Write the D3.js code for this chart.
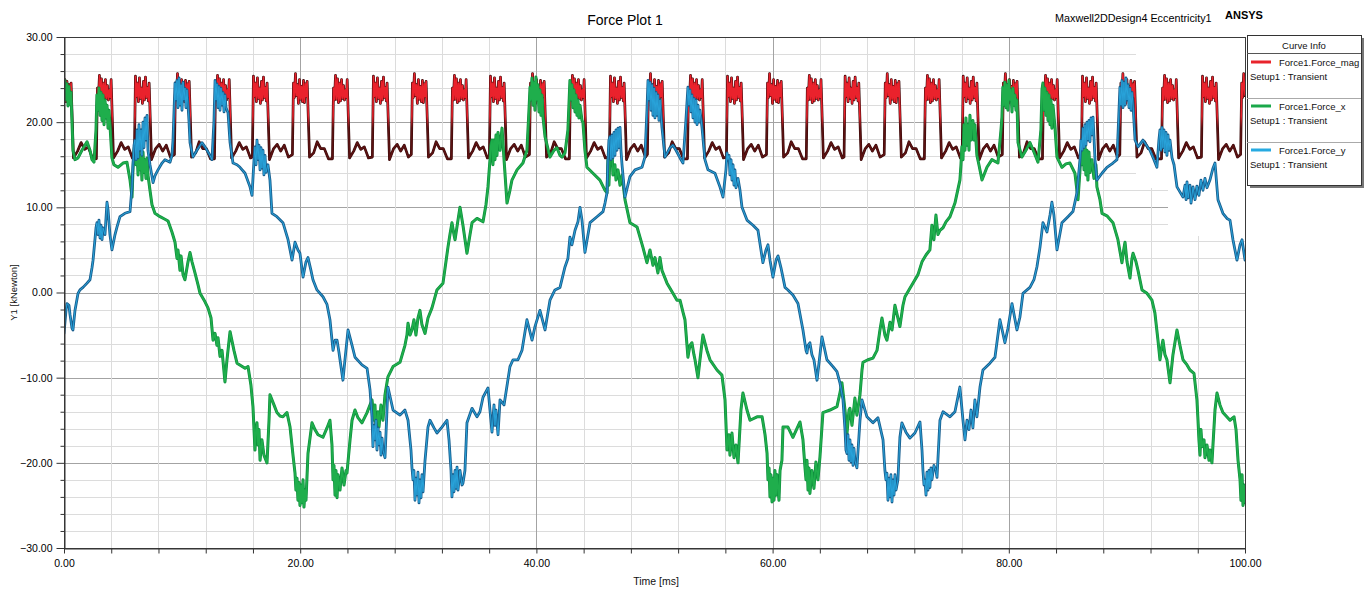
<!DOCTYPE html>
<html>
<head>
<meta charset="utf-8">
<script src="https://cdn.jsdelivr.net/npm/d3@7"></script>
<style>
  body { margin: 0; background: #fff; }
  svg { display: block; font-family: "Liberation Sans", Arial, sans-serif; }
</style>
</head>
<body>
<svg id="chart" width="1370" height="590"></svg>
<script>
// ---- axis ranges and tick values ----
const timeRange = [0, 100];          // ms
const forceRange = [-30, 30];        // kNewton
const yMajorTicks = [-30, -20, -10, 0, 10, 20, 30];
const yGridStep = 2;
const xGridStep = 4;
const xMajorTicks = [0, 20, 40, 60, 80, 100];

const plotTitle = "Force Plot 1";
const designLabel = "Maxwell2DDesign4 Eccentricity1";
const brandLabel = "ANSYS";
const xAxisTitle = "Time [ms]";
const yAxisTitle = "Y1 [kNewton]";
const legendTitle = "Curve Info";
const seriesNames = ["Force1.Force_mag", "Force1.Force_x", "Force1.Force_y"];
const setupLabel = "Setup1 : Transient";

// ---- Force1.Force_mag  [time ms, force kN] ----
const forceMag = [
[0,23.6],[0.08,25.0],[0.17,22.4],[0.25,24.8],[0.34,22.6],[0.42,24.4],[0.51,22.9],[0.60,24.6],[0.80,15.8],[1.15,16.6],[1.45,17.6],[1.75,16.8],[2.05,17.1],[2.40,15.8],
[2.74,15.7],[2.83,24.0],[2.91,22.6],[3.00,25.5],[3.08,22.7],[3.17,25.1],[3.25,22.3],[3.34,24.6],[3.42,22.5],[3.51,25.0],[3.59,22.8],[3.68,24.3],[3.76,22.6],[3.85,23.8],[3.92,22.9],[3.99,25.0],[4.19,15.8],[4.54,16.6],[4.84,17.6],[5.14,16.8],[5.44,17.1],[5.79,15.8],
[5.96,15.9],[6.05,25.4],[6.13,23.0],[6.22,24.6],[6.30,22.4],[6.39,25.2],[6.47,22.8],[6.56,24.0],[6.64,22.2],[6.73,24.8],[6.81,22.6],[6.90,25.3],[6.98,22.9],[7.07,24.1],[7.14,22.5],[7.21,24.6],[7.41,15.6],[7.76,16.9],[8.06,17.4],[8.36,16.6],[8.66,17.3],[9.01,15.9],
[9.35,16.2],[9.44,24.6],[9.52,22.9],[9.61,25.7],[9.69,23.1],[9.78,24.4],[9.86,22.2],[9.95,25.0],[10.03,22.7],[10.12,24.2],[10.20,22.4],[10.29,24.9],[10.37,22.3],[10.46,24.5],[10.53,23.0],[10.60,24.8],[10.80,15.9],[11.15,16.4],[11.45,17.7],[11.75,16.9],[12.05,16.9],[12.40,15.7],
[12.74,15.7],[12.83,24.0],[12.91,22.6],[13.00,25.5],[13.08,22.7],[13.17,25.1],[13.25,22.3],[13.34,24.6],[13.42,22.5],[13.51,25.0],[13.59,22.8],[13.68,24.3],[13.76,22.6],[13.85,23.8],[13.92,22.9],[13.99,25.0],[14.19,15.8],[14.54,16.6],[14.84,17.6],[15.14,16.8],[15.44,17.1],[15.79,15.8],
[15.95,15.9],[16.04,25.4],[16.12,23.0],[16.21,24.6],[16.29,22.4],[16.38,25.2],[16.46,22.8],[16.55,24.0],[16.63,22.2],[16.72,24.8],[16.80,22.6],[16.89,25.3],[16.97,22.9],[17.06,24.1],[17.13,22.5],[17.20,24.6],[17.40,15.6],[17.75,16.9],[18.05,17.4],[18.35,16.6],[18.65,17.3],[19.00,15.9],
[19.34,16.2],[19.43,24.6],[19.51,22.9],[19.60,25.7],[19.68,23.1],[19.77,24.4],[19.85,22.2],[19.94,25.0],[20.02,22.7],[20.11,24.2],[20.19,22.4],[20.28,24.9],[20.36,22.3],[20.45,24.5],[20.52,23.0],[20.59,24.8],[20.79,15.9],[21.14,16.4],[21.44,17.7],[21.74,16.9],[22.04,16.9],[22.39,15.7],
[22.73,15.7],[22.82,24.0],[22.90,22.6],[22.99,25.5],[23.07,22.7],[23.16,25.1],[23.24,22.3],[23.33,24.6],[23.41,22.5],[23.50,25.0],[23.58,22.8],[23.67,24.3],[23.75,22.6],[23.84,23.8],[23.91,22.9],[23.98,25.0],[24.18,15.8],[24.53,16.6],[24.83,17.6],[25.13,16.8],[25.43,17.1],[25.78,15.8],
[26.11,15.9],[26.20,25.4],[26.28,23.0],[26.37,24.6],[26.45,22.4],[26.54,25.2],[26.62,22.8],[26.71,24.0],[26.79,22.2],[26.88,24.8],[26.96,22.6],[27.05,25.3],[27.13,22.9],[27.22,24.1],[27.29,22.5],[27.36,24.6],[27.56,15.6],[27.91,16.9],[28.21,17.4],[28.51,16.6],[28.81,17.3],[29.16,15.9],
[29.41,16.2],[29.50,24.6],[29.58,22.9],[29.67,25.7],[29.75,23.1],[29.84,24.4],[29.92,22.2],[30.01,25.0],[30.09,22.7],[30.18,24.2],[30.26,22.4],[30.35,24.9],[30.43,22.3],[30.52,24.5],[30.59,23.0],[30.66,24.8],[30.86,15.9],[31.21,16.4],[31.51,17.7],[31.81,16.9],[32.11,16.9],[32.46,15.7],
[32.80,15.7],[32.89,24.0],[32.97,22.6],[33.06,25.5],[33.14,22.7],[33.23,25.1],[33.31,22.3],[33.40,24.6],[33.48,22.5],[33.57,25.0],[33.65,22.8],[33.74,24.3],[33.82,22.6],[33.91,23.8],[33.98,22.9],[34.05,25.0],[34.25,15.8],[34.60,16.6],[34.90,17.6],[35.20,16.8],[35.50,17.1],[35.85,15.8],
[36.02,15.9],[36.11,25.4],[36.19,23.0],[36.28,24.6],[36.36,22.4],[36.45,25.2],[36.53,22.8],[36.62,24.0],[36.70,22.2],[36.79,24.8],[36.87,22.6],[36.96,25.3],[37.04,22.9],[37.13,24.1],[37.20,22.5],[37.27,24.6],[37.47,15.6],[37.82,16.9],[38.12,17.4],[38.42,16.6],[38.72,17.3],[39.07,15.9],
[39.41,16.2],[39.50,24.6],[39.58,22.9],[39.67,25.7],[39.75,23.1],[39.84,24.4],[39.92,22.2],[40.01,25.0],[40.09,22.7],[40.18,24.2],[40.26,22.4],[40.35,24.9],[40.43,22.3],[40.52,24.5],[40.59,23.0],[40.66,24.8],[40.86,15.9],[41.21,16.4],[41.51,17.7],[41.81,16.9],[42.11,16.9],[42.46,15.7],
[42.79,15.7],[42.88,24.0],[42.96,22.6],[43.05,25.5],[43.13,22.7],[43.22,25.1],[43.30,22.3],[43.39,24.6],[43.47,22.5],[43.56,25.0],[43.64,22.8],[43.73,24.3],[43.81,22.6],[43.90,23.8],[43.97,22.9],[44.04,25.0],[44.24,15.8],[44.59,16.6],[44.89,17.6],[45.19,16.8],[45.49,17.1],[45.84,15.8],
[46.18,15.9],[46.27,25.4],[46.35,23.0],[46.44,24.6],[46.52,22.4],[46.61,25.2],[46.69,22.8],[46.78,24.0],[46.86,22.2],[46.95,24.8],[47.03,22.6],[47.12,25.3],[47.20,22.9],[47.29,24.1],[47.36,22.5],[47.43,24.6],[47.63,15.6],[47.98,16.9],[48.28,17.4],[48.58,16.6],[48.88,17.3],[49.23,15.9],
[49.40,16.2],[49.49,24.6],[49.57,22.9],[49.66,25.7],[49.74,23.1],[49.83,24.4],[49.91,22.2],[50.00,25.0],[50.08,22.7],[50.17,24.2],[50.25,22.4],[50.34,24.9],[50.42,22.3],[50.51,24.5],[50.58,23.0],[50.65,24.8],[50.85,15.9],[51.20,16.4],[51.50,17.7],[51.80,16.9],[52.10,16.9],[52.45,15.7],
[52.79,15.7],[52.88,24.0],[52.96,22.6],[53.05,25.5],[53.13,22.7],[53.22,25.1],[53.30,22.3],[53.39,24.6],[53.47,22.5],[53.56,25.0],[53.64,22.8],[53.73,24.3],[53.81,22.6],[53.90,23.8],[53.97,22.9],[54.04,25.0],[54.24,15.8],[54.59,16.6],[54.89,17.6],[55.19,16.8],[55.49,17.1],[55.84,15.8],
[56.09,15.9],[56.18,25.4],[56.26,23.0],[56.35,24.6],[56.43,22.4],[56.52,25.2],[56.60,22.8],[56.69,24.0],[56.77,22.2],[56.86,24.8],[56.94,22.6],[57.03,25.3],[57.11,22.9],[57.20,24.1],[57.27,22.5],[57.34,24.6],[57.54,15.6],[57.89,16.9],[58.19,17.4],[58.49,16.6],[58.79,17.3],[59.14,15.9],
[59.48,16.2],[59.57,24.6],[59.65,22.9],[59.74,25.7],[59.82,23.1],[59.91,24.4],[59.99,22.2],[60.08,25.0],[60.16,22.7],[60.25,24.2],[60.33,22.4],[60.42,24.9],[60.50,22.3],[60.59,24.5],[60.66,23.0],[60.73,24.8],[60.93,15.9],[61.28,16.4],[61.58,17.7],[61.88,16.9],[62.18,16.9],[62.53,15.7],
[62.85,15.7],[62.94,24.0],[63.02,22.6],[63.11,25.5],[63.19,22.7],[63.28,25.1],[63.36,22.3],[63.45,24.6],[63.53,22.5],[63.62,25.0],[63.70,22.8],[63.79,24.3],[63.87,22.6],[63.96,23.8],[64.03,22.9],[64.10,25.0],[64.30,15.8],[64.65,16.6],[64.95,17.6],[65.25,16.8],[65.55,17.1],[65.90,15.8],
[66.05,15.9],[66.14,25.4],[66.22,23.0],[66.31,24.6],[66.39,22.4],[66.48,25.2],[66.56,22.8],[66.65,24.0],[66.73,22.2],[66.82,24.8],[66.90,22.6],[66.99,25.3],[67.07,22.9],[67.16,24.1],[67.23,22.5],[67.30,24.6],[67.50,15.6],[67.85,16.9],[68.15,17.4],[68.45,16.6],[68.75,17.3],[69.10,15.9],
[69.45,16.2],[69.54,24.6],[69.62,22.9],[69.71,25.7],[69.79,23.1],[69.88,24.4],[69.96,22.2],[70.05,25.0],[70.13,22.7],[70.22,24.2],[70.30,22.4],[70.39,24.9],[70.47,22.3],[70.56,24.5],[70.63,23.0],[70.70,24.8],[70.90,15.9],[71.25,16.4],[71.55,17.7],[71.85,16.9],[72.15,16.9],[72.50,15.7],
[72.85,15.7],[72.94,24.0],[73.02,22.6],[73.11,25.5],[73.19,22.7],[73.28,25.1],[73.36,22.3],[73.45,24.6],[73.53,22.5],[73.62,25.0],[73.70,22.8],[73.79,24.3],[73.87,22.6],[73.96,23.8],[74.03,22.9],[74.10,25.0],[74.30,15.8],[74.65,16.6],[74.95,17.6],[75.25,16.8],[75.55,17.1],[75.90,15.8],
[76.05,15.9],[76.14,25.4],[76.22,23.0],[76.31,24.6],[76.39,22.4],[76.48,25.2],[76.56,22.8],[76.65,24.0],[76.73,22.2],[76.82,24.8],[76.90,22.6],[76.99,25.3],[77.07,22.9],[77.16,24.1],[77.23,22.5],[77.30,24.6],[77.50,15.6],[77.85,16.9],[78.15,17.4],[78.45,16.6],[78.75,17.3],[79.10,15.9],
[79.45,16.2],[79.54,24.6],[79.62,22.9],[79.71,25.7],[79.79,23.1],[79.88,24.4],[79.96,22.2],[80.05,25.0],[80.13,22.7],[80.22,24.2],[80.30,22.4],[80.39,24.9],[80.47,22.3],[80.56,24.5],[80.63,23.0],[80.70,24.8],[80.90,15.9],[81.25,16.4],[81.55,17.7],[81.85,16.9],[82.15,16.9],[82.50,15.7],
[82.85,15.7],[82.94,24.0],[83.02,22.6],[83.11,25.5],[83.19,22.7],[83.28,25.1],[83.36,22.3],[83.45,24.6],[83.53,22.5],[83.62,25.0],[83.70,22.8],[83.79,24.3],[83.87,22.6],[83.96,23.8],[84.03,22.9],[84.10,25.0],[84.30,15.8],[84.65,16.6],[84.95,17.6],[85.25,16.8],[85.55,17.1],[85.90,15.8],
[86.15,15.9],[86.24,25.4],[86.32,23.0],[86.41,24.6],[86.49,22.4],[86.58,25.2],[86.66,22.8],[86.75,24.0],[86.83,22.2],[86.92,24.8],[87.00,22.6],[87.09,25.3],[87.17,22.9],[87.26,24.1],[87.33,22.5],[87.40,24.6],[87.60,15.6],[87.95,16.9],[88.25,17.4],[88.55,16.6],[88.85,17.3],[89.20,15.9],
[89.40,16.2],[89.49,24.6],[89.57,22.9],[89.66,25.7],[89.74,23.1],[89.83,24.4],[89.91,22.2],[90.00,25.0],[90.08,22.7],[90.17,24.2],[90.25,22.4],[90.34,24.9],[90.42,22.3],[90.51,24.5],[90.58,23.0],[90.65,24.8],[90.85,15.9],[91.20,16.4],[91.50,17.7],[91.80,16.9],[92.10,16.9],[92.45,15.7],
[92.93,15.7],[93.02,24.0],[93.10,22.6],[93.19,25.5],[93.27,22.7],[93.36,25.1],[93.44,22.3],[93.53,24.6],[93.61,22.5],[93.70,25.0],[93.78,22.8],[93.87,24.3],[93.95,22.6],[94.04,23.8],[94.11,22.9],[94.18,25.0],[94.38,15.8],[94.73,16.6],[95.03,17.6],[95.33,16.8],[95.63,17.1],[95.98,15.8],
[96.31,15.9],[96.40,25.4],[96.48,23.0],[96.57,24.6],[96.65,22.4],[96.74,25.2],[96.82,22.8],[96.91,24.0],[96.99,22.2],[97.08,24.8],[97.16,22.6],[97.25,25.3],[97.33,22.9],[97.42,24.1],[97.49,22.5],[97.56,24.6],[97.76,15.6],[98.11,16.9],[98.41,17.4],[98.71,16.6],[99.01,17.3],[99.36,15.9],
[99.63,16.2],[99.72,24.6],[99.80,22.9],[99.89,25.7],[100,23.1]
];

// ---- Force1.Force_x  [time ms, force kN] ----
const forceX = [
[0,24.0],[0.08,24.9],[0.17,22.6],[0.25,24.5],[0.34,21.9],[0.42,24.2],[0.51,22.1],[0.59,23.5],[0.76,16.7],[0.93,15.6],[1.19,15.8],[1.52,16.7],[1.95,17.7],[2.20,16.7],[2.37,15.6],[2.54,15.3],[2.71,19.1],[2.79,23.2],[2.88,21.4],[2.96,24.0],[3.05,20.8],[3.13,23.5],[3.22,20.2],[3.30,23.2],[3.39,19.7],[3.47,22.6],[3.56,20.5],[3.64,22.0],[3.73,19.3],[3.81,21.4],[3.89,19.7],[4.06,15.8],[4.23,15.0],[4.57,14.7],[5.00,15.2],[5.33,15.3],[5.59,13.2],[5.76,11.2],[5.84,14.4],[5.93,16.7],[6.01,17.6],[6.10,15.0],[6.18,16.7],[6.27,13.8],[6.35,17.0],[6.43,14.4],[6.52,16.1],[6.60,13.2],[6.69,16.5],[6.77,14.1],[6.86,15.6],[6.94,13.4],[7.03,15.8],[7.11,13.8],[7.28,12.0],[7.45,10.3],[7.70,9.3],[8.13,8.9],[8.55,8.6],[8.81,8.4],[9.14,7.1],[9.40,5.9],[9.57,4.0],[9.65,5.0],[9.82,2.6],[9.91,4.3],[10.08,2.1],[10.24,1.5],[10.50,3.6],[10.67,4.7],[10.84,3.6],[11.09,2.3],[11.35,0.9],[11.52,-0.1],[11.94,-1.1],[12.19,-1.8],[12.45,-3.0],[12.62,-5.6],[12.79,-4.8],[12.95,-6.2],[13.04,-5.3],[13.21,-7.5],[13.38,-6.8],[13.63,-10.5],[13.80,-7.9],[14.06,-4.6],[14.39,-6.8],[14.65,-8.3],[14.99,-8.6],[15.33,-8.9],[15.58,-8.7],[15.83,-10.9],[16.00,-13.4],[16.17,-18.5],[16.26,-16.1],[16.34,-15.3],[16.43,-17.9],[16.51,-16.1],[16.60,-19.7],[16.76,-17.3],[16.93,-19.1],[17.19,-20.0],[17.36,-15.0],[17.44,-12.0],[17.78,-13.2],[18.03,-14.1],[18.29,-14.5],[18.54,-14.6],[18.88,-14.1],[19.14,-15.8],[19.39,-19.1],[19.56,-21.2],[19.64,-23.2],[19.73,-21.8],[19.81,-24.4],[19.90,-22.3],[19.98,-25.0],[20.07,-22.6],[20.15,-24.7],[20.24,-22.0],[20.32,-25.2],[20.41,-23.2],[20.49,-24.4],[20.66,-18.9],[20.83,-17.1],[21.00,-15.3],[21.25,-16.1],[21.51,-16.7],[21.93,-17.0],[22.27,-15.9],[22.52,-15.0],[22.69,-17.9],[22.78,-22.0],[22.86,-20.3],[22.95,-23.8],[23.03,-20.9],[23.12,-24.1],[23.20,-21.4],[23.37,-23.2],[23.54,-20.6],[23.71,-22.6],[23.88,-20.9],[23.96,-21.2],[24.22,-17.3],[24.39,-15.0],[24.64,-13.8],[24.89,-14.7],[25.23,-15.3],[25.66,-14.1],[26.08,-12.6],[26.25,-15.0],[26.33,-13.2],[26.42,-16.1],[26.59,-14.0],[26.67,-15.8],[26.84,-13.2],[27.01,-15.0],[27.18,-12.0],[27.43,-9.9],[27.86,-8.7],[28.45,-8.2],[28.87,-6.2],[29.04,-5.0],[29.13,-3.6],[29.30,-5.0],[29.46,-4.4],[29.63,-3.2],[29.80,-5.0],[29.97,-3.0],[30.14,-2.1],[30.31,-3.8],[30.57,-4.8],[30.82,-3.0],[31.16,-1.8],[31.58,0.3],[32.09,1.1],[32.51,5.3],[32.68,6.8],[32.85,8.2],[33.02,6.8],[33.11,6.2],[33.36,8.5],[33.53,10.0],[33.78,7.9],[34.12,4.6],[34.38,6.8],[34.55,8.2],[34.97,8.7],[35.48,8.3],[35.73,10.3],[35.90,12.4],[36.07,15.6],[36.15,17.3],[36.24,17.9],[36.32,15.0],[36.41,17.9],[36.49,15.6],[36.58,18.5],[36.66,16.1],[36.75,18.8],[36.92,16.7],[37.09,19.3],[37.26,15.6],[37.51,10.5],[37.76,12.0],[37.93,13.2],[38.36,14.4],[38.86,15.2],[39.20,16.7],[39.37,21.4],[39.46,24.1],[39.54,22.6],[39.63,25.2],[39.71,22.0],[39.80,24.7],[39.88,21.4],[39.96,25.3],[40.05,22.6],[40.13,24.4],[40.22,21.2],[40.30,23.8],[40.39,20.8],[40.47,23.2],[40.56,20.6],[40.73,18.3],[41.15,15.9],[41.49,16.7],[41.74,17.0],[42.00,16.1],[42.17,15.9],[42.42,16.4],[42.67,19.1],[42.84,24.9],[42.93,22.6],[43.01,24.4],[43.10,21.7],[43.18,23.8],[43.27,21.2],[43.35,23.2],[43.44,20.8],[43.52,22.6],[43.60,20.5],[43.69,22.0],[43.86,20.2],[43.94,20.0],[44.11,16.7],[44.28,14.7],[44.79,14.0],[45.38,13.2],[45.81,12.0],[45.98,11.7],[46.06,15.6],[46.14,12.6],[46.23,16.1],[46.40,16.7],[46.48,13.8],[46.65,15.0],[46.74,13.2],[46.91,14.4],[47.08,12.6],[47.25,13.8],[47.50,10.9],[47.92,8.2],[48.52,7.7],[49.02,5.3],[49.36,3.5],[49.62,5.0],[49.87,3.2],[50.04,4.1],[50.29,2.3],[50.46,4.1],[50.63,2.6],[51.06,1.1],[51.56,-0.1],[51.90,-0.9],[52.16,-0.9],[52.41,-2.3],[52.58,-3.2],[52.83,-7.6],[53.00,-6.2],[53.17,-5.9],[53.34,-7.3],[53.43,-7.9],[53.68,-10.0],[53.85,-7.9],[54.10,-5.0],[54.44,-6.8],[54.70,-7.9],[55.29,-9.1],[55.71,-9.7],[55.97,-12.6],[56.14,-18.5],[56.31,-16.7],[56.39,-19.1],[56.56,-16.5],[56.73,-19.4],[56.90,-17.9],[57.07,-20.0],[57.32,-13.8],[57.49,-11.8],[57.83,-13.8],[58.09,-15.0],[58.68,-14.6],[59.11,-14.6],[59.36,-16.7],[59.53,-18.9],[59.61,-22.0],[59.70,-20.6],[59.78,-24.0],[59.86,-21.4],[59.95,-24.6],[60.03,-21.8],[60.12,-24.4],[60.20,-20.9],[60.29,-23.8],[60.37,-21.4],[60.54,-24.4],[60.63,-20.9],[60.79,-19.7],[60.88,-15.8],[61.30,-15.8],[61.72,-17.0],[62.32,-15.2],[62.57,-17.3],[62.74,-20.5],[62.83,-22.0],[62.91,-19.7],[63.00,-23.2],[63.08,-20.6],[63.16,-23.6],[63.33,-20.9],[63.50,-23.0],[63.67,-19.9],[63.84,-22.0],[64.01,-19.3],[64.26,-14.1],[64.86,-13.8],[65.45,-13.4],[65.70,-11.8],[65.87,-10.6],[66.13,-13.8],[66.30,-16.5],[66.47,-13.8],[66.55,-13.6],[66.72,-15.6],[66.97,-12.4],[67.14,-14.4],[67.40,-12.0],[67.57,-9.1],[67.65,-8.2],[68.07,-7.9],[68.50,-7.7],[68.84,-6.8],[69.09,-4.4],[69.26,-3.0],[69.51,-5.0],[69.68,-5.6],[69.94,-3.5],[70.11,-4.4],[70.36,-1.5],[70.61,-3.0],[70.78,-4.0],[71.04,-1.5],[71.21,-0.5],[71.63,0.5],[71.88,1.1],[72.31,2.1],[72.65,3.6],[72.99,4.4],[73.32,5.0],[73.49,7.9],[73.66,6.2],[73.83,9.1],[74.00,6.8],[74.17,7.3],[74.43,7.6],[74.68,8.3],[75.02,8.9],[75.44,10.5],[75.86,13.2],[75.95,15.0],[76.03,17.1],[76.12,15.6],[76.20,19.7],[76.29,16.7],[76.37,20.5],[76.46,17.3],[76.54,19.7],[76.63,16.7],[76.71,20.8],[76.80,17.9],[76.88,20.0],[76.96,20.2],[77.05,17.9],[77.13,19.7],[77.30,16.1],[77.47,15.0],[77.73,13.2],[78.15,14.7],[78.57,15.6],[79.08,15.2],[79.34,19.1],[79.42,20.6],[79.50,24.1],[79.59,22.0],[79.67,24.7],[79.76,21.7],[79.84,24.4],[79.93,21.4],[80.01,24.9],[80.10,22.6],[80.18,23.8],[80.27,21.2],[80.35,24.0],[80.44,22.0],[80.52,23.2],[80.61,21.4],[80.69,22.6],[80.78,17.6],[81.11,15.9],[81.45,16.7],[81.79,17.6],[82.13,16.5],[82.47,15.3],[82.72,19.1],[82.81,23.8],[82.89,24.6],[82.98,21.4],[83.06,24.0],[83.15,20.8],[83.23,23.5],[83.32,20.2],[83.40,23.2],[83.49,19.7],[83.57,22.6],[83.65,19.3],[83.74,22.0],[83.91,19.4],[84.08,15.9],[84.50,14.7],[84.84,15.1],[85.18,15.2],[85.60,14.0],[85.86,10.9],[86.03,14.4],[86.11,16.7],[86.20,15.0],[86.28,17.9],[86.37,14.4],[86.45,17.3],[86.53,13.8],[86.62,16.7],[86.70,13.2],[86.79,16.5],[86.87,14.1],[87.04,15.6],[87.21,13.4],[87.38,15.0],[87.46,12.4],[87.72,10.9],[87.89,9.3],[88.31,9.0],[88.82,8.2],[89.24,6.2],[89.58,3.5],[89.75,5.2],[89.84,5.9],[90.01,3.6],[90.26,1.7],[90.43,4.0],[90.52,4.6],[90.77,3.6],[90.94,2.6],[91.28,0.3],[91.70,-0.1],[92.12,-0.9],[92.37,-2.4],[92.63,-5.6],[92.80,-7.9],[92.97,-6.2],[93.05,-5.6],[93.22,-7.3],[93.39,-7.9],[93.65,-10.6],[93.90,-7.3],[94.24,-4.4],[94.49,-6.2],[94.75,-7.9],[95.09,-8.5],[95.34,-9.1],[95.68,-9.5],[95.93,-12.6],[96.02,-15.0],[96.10,-17.3],[96.19,-19.1],[96.27,-16.1],[96.36,-18.1],[96.53,-17.3],[96.61,-19.4],[96.78,-17.9],[96.95,-19.7],[97.03,-18.5],[97.20,-20.0],[97.46,-13.8],[97.63,-11.8],[97.88,-13.2],[98.13,-14.1],[98.73,-15.0],[99.07,-14.6],[99.24,-16.1],[99.41,-19.7],[99.58,-22.0],[99.66,-24.4],[99.75,-21.4],[99.83,-25.0],[99.92,-22.6],[100,-24.7]
];

// ---- Force1.Force_y  [time ms, force kN] ----
const forceY = [
[0,-4.8],[0.17,-2.1],[0.25,-1.3],[0.42,-1.5],[0.51,-2.6],[0.68,-4.2],[0.76,-4.4],[0.93,-2.1],[1.19,-0.1],[1.35,0.3],[1.61,0.6],[1.95,1.1],[2.20,1.5],[2.37,2.9],[2.46,3.8],[2.62,6.2],[2.71,7.6],[2.79,8.2],[2.88,6.8],[2.96,8.5],[3.05,6.4],[3.13,7.9],[3.22,6.2],[3.30,7.6],[3.47,6.8],[3.64,10.6],[3.73,9.7],[3.89,6.8],[4.06,5.0],[4.32,6.8],[4.49,7.7],[4.74,8.9],[5.16,9.3],[5.59,9.5],[5.67,10.9],[5.76,12.4],[5.84,15.0],[5.93,17.3],[6.01,17.9],[6.10,15.6],[6.18,19.1],[6.27,15.8],[6.35,19.7],[6.43,16.7],[6.52,19.1],[6.60,16.1],[6.69,20.0],[6.77,17.0],[6.86,20.5],[6.94,17.9],[7.03,20.8],[7.11,16.7],[7.28,15.0],[7.54,12.9],[7.70,13.7],[7.96,14.4],[8.30,15.2],[8.55,15.6],[8.98,15.3],[9.14,16.1],[9.23,17.9],[9.40,24.6],[9.48,22.6],[9.57,24.9],[9.65,21.7],[9.74,25.2],[9.82,22.0],[9.91,24.4],[9.99,21.4],[10.08,24.7],[10.16,22.6],[10.24,24.0],[10.33,21.7],[10.41,23.8],[10.50,22.0],[10.58,20.2],[10.67,17.6],[10.92,15.9],[11.26,16.7],[11.68,17.6],[11.94,17.1],[12.11,16.7],[12.36,16.1],[12.53,15.6],[12.70,20.2],[12.79,24.9],[12.87,22.6],[12.95,24.5],[13.04,21.7],[13.12,24.2],[13.21,21.4],[13.29,24.0],[13.38,22.0],[13.46,23.5],[13.55,21.2],[13.63,23.2],[13.72,21.7],[13.89,21.1],[14.06,17.6],[14.31,15.2],[14.65,15.0],[14.90,14.7],[15.33,14.0],[15.75,12.4],[15.92,11.4],[16.09,15.6],[16.17,17.1],[16.26,15.0],[16.34,17.9],[16.43,15.6],[16.51,17.3],[16.60,14.4],[16.68,17.0],[16.76,14.6],[16.85,16.7],[16.93,13.8],[17.02,16.1],[17.10,14.1],[17.27,15.0],[17.44,13.2],[17.61,9.3],[18.03,8.9],[18.54,8.2],[18.97,6.2],[19.31,3.8],[19.56,5.9],[19.81,5.0],[19.98,4.6],[20.24,1.8],[20.49,3.6],[20.66,4.1],[20.91,2.6],[21.08,1.5],[21.42,0.3],[21.93,-0.5],[22.27,-1.4],[22.52,-3.2],[22.78,-6.8],[22.95,-5.6],[23.12,-5.6],[23.28,-7.0],[23.37,-7.9],[23.62,-10.3],[23.79,-7.9],[24.05,-4.4],[24.39,-6.2],[24.64,-7.6],[25.23,-8.5],[25.66,-8.9],[25.91,-11.4],[26.08,-14.6],[26.16,-18.1],[26.25,-15.6],[26.33,-17.3],[26.42,-15.0],[26.50,-18.5],[26.59,-15.9],[26.67,-17.9],[26.76,-16.4],[26.84,-19.1],[26.93,-17.1],[27.01,-18.5],[27.18,-19.4],[27.43,-11.1],[27.86,-13.8],[28.45,-14.4],[28.87,-13.8],[29.13,-15.0],[29.38,-18.5],[29.46,-20.5],[29.55,-22.0],[29.63,-20.9],[29.72,-24.4],[29.80,-21.8],[29.89,-23.8],[29.97,-21.1],[30.06,-24.7],[30.14,-22.0],[30.23,-24.1],[30.31,-21.4],[30.40,-23.4],[30.57,-19.7],[30.82,-15.8],[30.99,-15.0],[31.33,-15.9],[31.58,-16.5],[32.00,-15.8],[32.43,-15.0],[32.60,-17.3],[32.77,-20.9],[32.85,-24.0],[32.94,-21.4],[33.02,-23.4],[33.11,-20.9],[33.19,-23.0],[33.28,-20.5],[33.36,-23.2],[33.53,-20.9],[33.70,-22.6],[33.78,-22.4],[33.95,-20.9],[34.12,-15.3],[34.55,-13.6],[34.97,-14.6],[35.22,-14.0],[35.48,-12.3],[35.90,-11.2],[36.07,-13.8],[36.24,-16.4],[36.41,-13.2],[36.49,-15.6],[36.58,-13.8],[36.75,-16.7],[36.92,-12.6],[37.26,-13.2],[37.76,-8.7],[38.02,-7.9],[38.44,-7.9],[38.78,-6.8],[39.20,-3.2],[39.63,-5.6],[39.88,-4.0],[40.30,-2.1],[40.73,-4.4],[41.15,-0.9],[41.57,0.3],[42.00,0.6],[42.42,3.0],[42.67,4.0],[42.84,6.5],[43.01,5.6],[43.27,7.3],[43.52,8.3],[43.69,10.0],[43.86,8.5],[44.11,4.7],[44.54,8.2],[45.13,8.9],[45.64,9.5],[45.81,10.5],[45.98,11.7],[46.06,15.6],[46.14,17.9],[46.23,18.3],[46.31,15.6],[46.40,18.5],[46.48,15.8],[46.57,18.8],[46.65,16.1],[46.74,19.1],[46.82,16.7],[46.91,19.3],[46.99,17.0],[47.08,19.4],[47.16,16.7],[47.25,15.0],[47.50,11.2],[47.92,13.6],[48.35,14.4],[48.94,14.7],[49.19,15.9],[49.36,21.4],[49.45,24.9],[49.53,22.6],[49.62,24.7],[49.70,21.4],[49.79,24.4],[49.87,20.8],[49.96,24.0],[50.04,20.5],[50.13,23.5],[50.21,20.8],[50.29,23.2],[50.38,20.2],[50.46,22.6],[50.63,19.4],[50.89,15.9],[51.31,17.0],[51.56,17.3],[51.82,16.7],[52.16,15.8],[52.41,15.2],[52.66,20.2],[52.83,24.1],[52.92,22.0],[53.00,23.8],[53.09,21.2],[53.17,23.2],[53.26,20.5],[53.34,22.8],[53.43,20.0],[53.51,22.6],[53.60,19.7],[53.68,22.0],[53.77,20.0],[53.85,21.4],[54.02,19.4],[54.27,15.6],[54.53,14.4],[55.12,14.0],[55.54,12.4],[55.80,11.2],[56.05,14.4],[56.14,16.4],[56.22,15.6],[56.31,16.1],[56.39,13.8],[56.48,15.6],[56.56,13.2],[56.65,15.0],[56.73,12.6],[56.81,14.4],[56.90,12.3],[57.07,13.4],[57.24,12.0],[57.41,10.0],[57.83,8.5],[58.34,7.9],[58.76,7.3],[59.18,3.5],[59.44,5.0],[59.61,5.6],[59.78,3.8],[60.03,1.8],[60.29,3.8],[60.46,4.3],[60.71,2.9],[61.05,0.6],[61.30,0.3],[61.72,-0.3],[62.15,-1.3],[62.57,-4.4],[62.83,-6.8],[62.91,-7.1],[63.00,-6.2],[63.16,-5.9],[63.33,-7.3],[63.50,-7.9],[63.76,-10.3],[64.01,-7.3],[64.18,-5.2],[64.60,-7.9],[65.11,-8.7],[65.45,-9.3],[65.70,-10.6],[65.96,-12.6],[66.13,-16.1],[66.21,-18.5],[66.30,-18.9],[66.38,-16.7],[66.47,-19.7],[66.55,-17.3],[66.64,-19.9],[66.72,-17.9],[66.81,-20.3],[66.89,-18.3],[66.97,-19.7],[67.14,-20.6],[67.40,-15.0],[67.57,-12.6],[67.99,-14.6],[68.50,-15.3],[68.92,-14.7],[69.35,-17.3],[69.51,-20.9],[69.60,-22.0],[69.68,-21.2],[69.77,-24.4],[69.85,-21.8],[69.94,-24.0],[70.02,-21.4],[70.11,-24.6],[70.19,-22.0],[70.28,-23.8],[70.36,-21.4],[70.45,-23.2],[70.61,-22.0],[70.78,-17.0],[70.95,-15.3],[71.29,-16.4],[71.63,-17.1],[72.05,-16.5],[72.48,-15.2],[72.65,-18.5],[72.73,-20.9],[72.82,-22.6],[72.90,-22.0],[72.99,-23.8],[73.07,-21.1],[73.16,-23.2],[73.24,-20.9],[73.32,-22.9],[73.41,-20.6],[73.49,-22.0],[73.66,-20.3],[73.83,-20.9],[73.92,-21.7],[74.17,-15.0],[74.43,-14.0],[75.02,-14.6],[75.44,-14.0],[75.86,-11.1],[76.12,-15.0],[76.29,-17.3],[76.46,-15.0],[76.63,-16.1],[76.80,-13.8],[76.96,-15.9],[77.13,-12.6],[77.30,-14.6],[77.56,-11.1],[77.81,-9.1],[78.40,-8.3],[78.83,-7.6],[79.25,-3.2],[79.67,-5.9],[79.93,-4.2],[80.27,-1.3],[80.69,-4.4],[80.94,-2.9],[81.20,-0.1],[81.79,0.6],[82.13,1.5],[82.38,3.0],[82.64,5.3],[82.89,8.2],[83.23,7.1],[83.49,9.1],[83.65,10.6],[83.82,9.1],[84.08,5.0],[84.50,8.2],[85.01,8.9],[85.43,9.5],[85.77,11.7],[86.03,15.6],[86.11,17.9],[86.20,16.7],[86.28,19.3],[86.37,17.0],[86.45,19.7],[86.53,17.3],[86.62,20.0],[86.70,17.9],[86.79,20.2],[86.87,17.7],[86.96,20.5],[87.04,18.5],[87.13,20.6],[87.30,15.6],[87.46,13.2],[87.89,14.0],[88.31,14.7],[88.82,15.2],[89.16,15.6],[89.33,21.4],[89.41,24.1],[89.50,22.0],[89.58,24.9],[89.67,21.7],[89.75,24.7],[89.84,22.0],[89.92,25.2],[90.01,22.6],[90.09,24.4],[90.18,21.7],[90.26,24.0],[90.35,21.4],[90.43,23.5],[90.52,22.0],[90.69,17.9],[90.94,17.1],[91.36,17.9],[91.70,17.2],[91.95,16.7],[92.29,15.6],[92.54,14.7],[92.71,17.9],[92.80,19.1],[92.88,16.7],[92.97,19.4],[93.05,17.0],[93.14,19.1],[93.22,16.5],[93.31,18.8],[93.39,16.1],[93.48,18.5],[93.56,16.7],[93.65,17.9],[93.82,15.8],[93.99,15.0],[94.24,12.4],[94.75,11.2],[94.92,12.6],[95.01,10.9],[95.09,13.0],[95.18,11.1],[95.34,12.6],[95.43,10.5],[95.60,12.4],[95.77,10.9],[95.93,12.5],[96.10,11.4],[96.27,13.2],[96.44,12.0],[96.61,13.4],[96.78,12.3],[97.03,13.2],[97.29,14.6],[97.46,15.2],[97.71,10.9],[98.13,9.3],[98.47,8.7],[98.73,8.5],[98.98,6.2],[99.32,3.8],[99.58,5.6],[99.75,6.2],[100,3.8]
];

const svg = d3.select("#chart");
const plot = { left: 64, right: 1245, top: 37, bottom: 548 };

const x = d3.scaleLinear().domain(timeRange).range([plot.left, plot.right]);
const y = d3.scaleLinear().domain(forceRange).range([plot.bottom, plot.top]);

// the magnitude trace shows red on its rippled crests and a dark maroon line elsewhere
const defs = svg.append("defs");
const magGrad = defs.append("linearGradient").attr("id", "magCore")
  .attr("gradientUnits", "userSpaceOnUse")
  .attr("x1", 0).attr("x2", 0).attr("y1", y(26)).attr("y2", y(14));
[[0, "#ea222c"], [0.44, "#ea222c"], [0.56, "#5c1212"], [1, "#5c1212"]].forEach(([o, c]) =>
  magGrad.append("stop").attr("offset", o).attr("stop-color", c));

// ---- line styling: each curve is a dark edge with a brighter core ----
const curveStyles = [
  { data: forceMag, edge: "#360707", core: "url(#magCore)", edgeW: 2.7, coreW: 1.6, swatch: "#e8242c" },
  { data: forceX,   edge: "#0e8f3d", core: "#1fae4c", edgeW: 3.0, coreW: 1.7, swatch: "#1aa84a" },
  { data: forceY,   edge: "#195f8f", core: "#2aaae2", edgeW: 2.8, coreW: 0.9, swatch: "#27aae1" }
];

svg.append("rect").attr("width", 1370).attr("height", 590).attr("fill", "#fff");

// grid
const yGrid = d3.range(forceRange[0], forceRange[1] + 0.001, yGridStep);
const xGrid = d3.range(timeRange[0], timeRange[1] + 0.001, xGridStep);
const grid = svg.append("g");
grid.selectAll("line.gy").data(yGrid).join("line")
  .attr("x1", plot.left).attr("x2", plot.right)
  .attr("y1", d => Math.round(y(d)) + 0.5).attr("y2", d => Math.round(y(d)) + 0.5)
  .attr("stroke", d => (d % 10 === 0) ? "#a3a3a3" : "#dcdcdc").attr("stroke-width", 1);
grid.selectAll("line.gx").data(xGrid).join("line")
  .attr("y1", plot.top).attr("y2", plot.bottom)
  .attr("x1", d => Math.round(x(d)) + 0.5).attr("x2", d => Math.round(x(d)) + 0.5)
  .attr("stroke", d => (d % 20 === 0) ? "#a3a3a3" : "#dcdcdc").attr("stroke-width", 1);

// blank band left beside the curve-info box, where the grid is not drawn
grid.append("path")
  .attr("d", `M1136,${plot.top + 1}H${plot.right}V236H1168V188H1136Z`)
  .attr("fill", "#fff");

// curves
svg.append("clipPath").attr("id", "plotClip").append("rect")
  .attr("x", plot.left).attr("y", plot.top - 2)
  .attr("width", plot.right - plot.left).attr("height", plot.bottom - plot.top + 4);

const line = d3.line().x(d => x(d[0])).y(d => y(d[1])).curve(d3.curveLinear);
const curves = svg.append("g").attr("clip-path", "url(#plotClip)");
curveStyles.forEach(s => {
  curves.append("path").datum(s.data).attr("d", line)
    .attr("fill", "none").attr("stroke", s.edge).attr("stroke-width", s.edgeW)
    .attr("stroke-linejoin", "round").attr("stroke-linecap", "round");
  curves.append("path").datum(s.data).attr("d", line)
    .attr("fill", "none").attr("stroke", s.core).attr("stroke-width", s.coreW)
    .attr("stroke-linejoin", "round");
});

// frame
svg.append("rect")
  .attr("x", plot.left + 0.5).attr("y", plot.top + 0.5)
  .attr("width", plot.right - plot.left).attr("height", plot.bottom - plot.top)
  .attr("fill", "none").attr("stroke", "#3a3a3a").attr("stroke-width", 1);

// axes
const fmt = d3.format(".2f");
const yMinor = yGrid.filter(v => !yMajorTicks.includes(v));
const axisFont = g => g.selectAll("text")
  .attr("font-family", "Liberation Sans, Arial, sans-serif")
  .attr("font-size", 10.5).attr("fill", "#000");

const yAxis = svg.append("g").attr("transform", `translate(${plot.left + 0.5},0)`)
  .call(d3.axisLeft(y).tickValues(yMajorTicks).tickSize(8).tickSizeOuter(0).tickPadding(4).tickFormat(fmt))
  .call(axisFont);
yAxis.select(".domain").attr("stroke", "#333");
yAxis.selectAll(".tick line").attr("stroke", "#333");

svg.append("g").attr("transform", `translate(${plot.left + 0.5},0)`)
  .call(d3.axisLeft(y).tickValues(yMinor).tickSize(4).tickSizeOuter(0).tickFormat(""))
  .call(g => g.select(".domain").remove())
  .call(g => g.selectAll(".tick line").attr("stroke", "#333"));

const xAxis = svg.append("g").attr("transform", `translate(0,${plot.bottom + 0.5})`)
  .call(d3.axisBottom(x).tickValues(xGrid).tickSize(5).tickSizeOuter(0).tickPadding(6)
    .tickFormat(d => xMajorTicks.includes(d) ? fmt(d) : ""))
  .call(axisFont);
xAxis.select(".domain").attr("stroke", "#333");
xAxis.selectAll(".tick line").attr("stroke", "#333");

// titles
svg.append("text").attr("x", 625).attr("y", 25).attr("text-anchor", "middle")
  .attr("font-size", 14).attr("fill", "#000").text(plotTitle);
svg.append("text").attr("x", 1055).attr("y", 22)
  .attr("font-size", 10.8).attr("fill", "#000").text(designLabel);
svg.append("text").attr("x", 1225).attr("y", 19)
  .attr("font-size", 11).attr("font-weight", "bold").attr("fill", "#000").text(brandLabel);
svg.append("text").attr("x", 656).attr("y", 585).attr("text-anchor", "middle")
  .attr("font-size", 10.5).attr("fill", "#111").text(xAxisTitle);
svg.append("text").attr("transform", `translate(17,${(plot.top + plot.bottom) / 2}) rotate(-90)`)
  .attr("text-anchor", "middle").attr("font-size", 9.5).attr("fill", "#111").text(yAxisTitle);

// legend
const lg = svg.append("g").attr("transform", "translate(1247,35)");
const lgW = 114, lgH = 150;
lg.append("rect").attr("x", 3).attr("y", 3).attr("width", lgW).attr("height", lgH).attr("fill", "#777");
lg.append("rect").attr("x", 0.5).attr("y", 0.5).attr("width", lgW).attr("height", lgH)
  .attr("fill", "#fff").attr("stroke", "#333");
lg.append("text").attr("x", lgW / 2).attr("y", 14).attr("text-anchor", "middle")
  .attr("font-size", 9.5).attr("fill", "#111").text(legendTitle);
lg.append("line").attr("x1", 0).attr("x2", lgW).attr("y1", 18.5).attr("y2", 18.5).attr("stroke", "#555");
const rowTop = [19, 63, 107];
seriesNames.forEach((name, i) => {
  const r = lg.append("g").attr("transform", `translate(0,${rowTop[i]})`);
  r.append("line").attr("x1", 4).attr("x2", 24).attr("y1", 8).attr("y2", 8)
    .attr("stroke", curveStyles[i].swatch).attr("stroke-width", 3);
  r.append("text").attr("x", 32).attr("y", 12).attr("font-size", 9.5).attr("fill", "#111").text(name);
  r.append("text").attr("x", 3).attr("y", 26).attr("font-size", 9.5).attr("fill", "#111").text(setupLabel);
  if (i < 2) r.append("line").attr("x1", 0).attr("x2", lgW).attr("y1", 44.5).attr("y2", 44.5).attr("stroke", "#aaa");
});
</script>
</body>
</html>
